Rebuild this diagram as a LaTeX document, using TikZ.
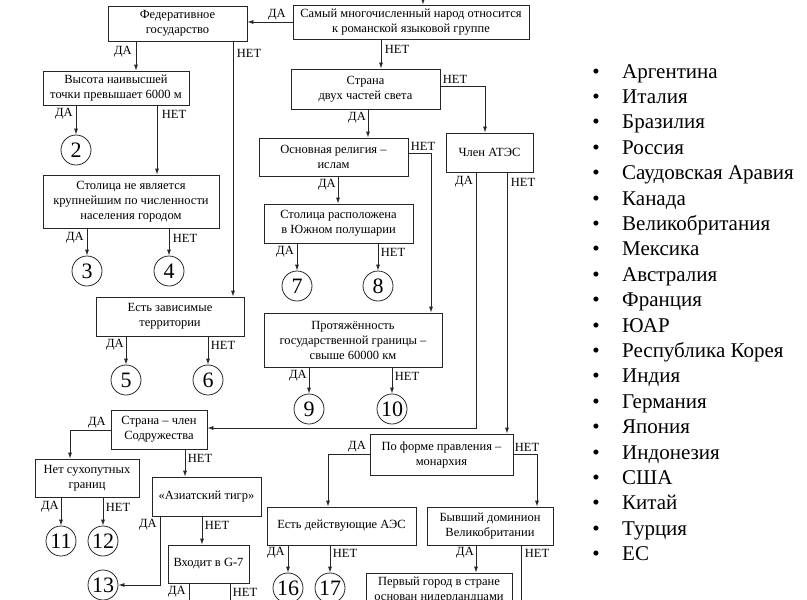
\documentclass[tikz,border=0pt]{standalone}
\usepackage{fontspec}
\setmainfont{Liberation Serif}
\usetikzlibrary{arrows.meta}
\begin{document}
\begin{tikzpicture}[x=1pt,y=-1pt,
  bx/.style={draw=black!85, line width=0.8pt, align=center, inner sep=0pt, font=\fontsize{12.5}{15}\selectfont},
  cir/.style={draw=black!85, circle, line width=0.8pt, minimum size=30pt, inner sep=0pt, font=\fontsize{22}{22}\selectfont},
  arr/.style={draw=black!85, line width=0.8pt, -{Latex[length=6pt,width=4pt]}},
  ln/.style={draw=black!85, line width=0.8pt},
  lb/.style={inner sep=0pt, font=\fontsize{12.5}{15}\selectfont},
  itm/.style={anchor=base west, inner sep=0pt, font=\fontsize{21}{24}\selectfont},
  bul/.style={anchor=base, inner sep=0pt, font=\fontsize{21}{24}\selectfont}]
\useasboundingbox (0,0) rectangle (807,600);
\clip (0,0) rectangle (807,600);

% boxes
\node[bx, minimum width=139pt, minimum height=35pt] (fed) at (177.5,23.5) {Федеративное\\государство};
\node[bx, minimum width=236pt, minimum height=34pt] (samy) at (411,22) {Самый многочисленный народ относится\\к романской языковой группе};
\node[bx, minimum width=146pt, minimum height=34pt] (vys) at (116,88) {Высота наивысшей\\точки превышает 6000 м};
\node[bx, minimum width=176pt, minimum height=53pt] (stol) at (131,201.5) {Столица не является\\крупнейшим по численности\\населения городом};
\node[bx, minimum width=148pt, minimum height=39pt] (zav) at (170,316.5) {Есть зависимые\\территории};
\node[bx, minimum width=149pt, minimum height=40pt] (dvuh) at (365.5,89) {Страна\\двух частей света};
\node[bx, minimum width=87pt, minimum height=39pt] (atec) at (489.5,152.5) {Член АТЭС};
\node[bx, minimum width=149pt, minimum height=38pt] (rel) at (333.5,157) {Основная религия –\\ислам};
\node[bx, minimum width=149pt, minimum height=39pt] (yug) at (338.5,223.5) {Столица расположена\\в Южном полушарии};
\node[bx, minimum width=178pt, minimum height=54pt] (prot) at (353,340) {Протяжённость\\государственной границы –\\свыше 60000 км};
\node[bx, minimum width=96pt, minimum height=39pt] (sodr) at (159,429.5) {Страна – член\\Содружества};
\node[bx, minimum width=104pt, minimum height=38pt] (suh) at (87,478) {Нет сухопутных\\границ};
\node[bx, minimum width=109pt, minimum height=39pt] (tigr) at (206.5,496.5) {«Азиатский тигр»};
\node[bx, minimum width=81pt, minimum height=38pt] (g7) at (208.5,564) {Входит в G-7};
\node[bx, minimum width=143pt, minimum height=41pt] (mon) at (441.5,454.5) {По форме правления –\\монархия};
\node[bx, minimum width=149pt, minimum height=38pt] (aes) at (341.5,526) {Есть действующие АЭС};
\node[bx, minimum width=126pt, minimum height=38pt] (dom) at (490,526) {Бывший доминион\\Великобритании};
\node[bx, minimum width=146pt, minimum height=34pt] (perv) at (439,590) {Первый город в стране\\основан нидерландцами};

% circles
\node[cir] (c2) at (76,150) {2};
\node[cir] (c3) at (87,271) {3};
\node[cir] (c4) at (169,271) {4};
\node[cir] (c5) at (126,380) {5};
\node[cir] (c6) at (208,380) {6};
\node[cir] (c7) at (297,286) {7};
\node[cir] (c8) at (378,286) {8};
\node[cir] (c9) at (309,409) {9};
\node[cir] (c10) at (392,409) {10};
\node[cir] (c11) at (61,541) {11};
\node[cir] (c12) at (103,541) {12};
\node[cir] (c13) at (103,585) {13};
\node[cir] (c16) at (288,588) {16};
\node[cir] (c17) at (330,588) {17};

% free ends
\coordinate (top) at (423,-5);
\coordinate (g7da) at (189,610);
\coordinate (g7net) at (230,610);
\coordinate (domnet) at (521,610);

% connectors
\draw[arr] (top) -- (top |- samy.north);
\draw[arr] (samy.west) -- (samy.west -| fed.east);
\draw[arr] (fed.south -| 136,0) -- (vys.north -| 136,0);
\draw[arr] (fed.south -| 233,0) -- (zav.north -| 233,0);
\draw[arr] (vys.south -| c2) -- (c2.north);
\draw[arr] (vys.south -| 157,0) -- (stol.north -| 157,0);
\draw[arr] (stol.south -| c3) -- (c3.north);
\draw[arr] (stol.south -| c4) -- (c4.north);
\draw[arr] (zav.south -| c5) -- (c5.north);
\draw[arr] (zav.south -| c6) -- (c6.north);
\draw[arr] (samy.south -| 381,0) -- (dvuh.north -| 381,0);
\draw[arr] (dvuh.east |- 0,86) -| (atec.north -| 485,0);
\draw[arr] (dvuh.south -| 368,0) -- (rel.north -| 368,0);
\draw[arr] (rel.east |- 0,153) -| (prot.north -| 431,0);
\draw[arr] (rel.south -| 338,0) -- (yug.north -| 338,0);
\draw[arr] (yug.south -| c7) -- (c7.north);
\draw[arr] (yug.south -| c8) -- (c8.north);
\draw[arr] (prot.south -| c9) -- (c9.north);
\draw[arr] (prot.south -| c10) -- (c10.north);
\draw[arr] (atec.south -| 476,0) |- (sodr.east |- 0,428);
\draw[arr] (atec.south -| 507,0) -- (mon.north -| 507,0);
\draw[arr] (sodr.west |- 0,430) -| (suh.north -| 70,0);
\draw[arr] (sodr.south -| 185,0) -- (tigr.north -| 185,0);
\draw[arr] (suh.south -| c11) -- (c11.north);
\draw[arr] (suh.south -| c12) -- (c12.north);
\draw[arr] (tigr.south -| 160,0) |- (c13.east);
\draw[arr] (tigr.south -| 202,0) -- (g7.north -| 202,0);
\draw[ln] (g7.south -| g7da) -- (g7da);
\draw[ln] (g7.south -| g7net) -- (g7net);
\draw[arr] (mon.west |- 0,454) -| (aes.north -| 328,0);
\draw[arr] (mon.east |- 0,454) -| (dom.north -| 537,0);
\draw[arr] (aes.south -| c16) -- (c16.north);
\draw[arr] (aes.south -| c17) -- (c17.north);
\draw[arr] (dom.south -| 476,0) -- (perv.north -| 476,0);
\draw[ln] (dom.south -| domnet) -- (domnet);

% labels
\node[lb] (l1) at (277,15) {ДА};
\node[lb] (l2) at (123,52) {ДА};
\node[lb] (l3) at (249,53) {НЕТ};
\node[lb] (l4) at (64,114) {ДА};
\node[lb] (l5) at (174,114) {НЕТ};
\node[lb] (l6) at (75,238) {ДА};
\node[lb] (l7) at (185,238) {НЕТ};
\node[lb] (l8) at (115,345) {ДА};
\node[lb] (l9) at (223,345) {НЕТ};
\node[lb] (l10) at (397,49) {НЕТ};
\node[lb] (l11) at (455,79) {НЕТ};
\node[lb] (l12) at (357,118) {ДА};
\node[lb] (l13) at (423,146) {НЕТ};
\node[lb] (l14) at (327,185) {ДА};
\node[lb] (l15) at (285,252) {ДА};
\node[lb] (l16) at (393,252) {НЕТ};
\node[lb] (l17) at (298,376) {ДА};
\node[lb] (l18) at (407,376) {НЕТ};
\node[lb] (l19) at (464,182) {ДА};
\node[lb] (l20) at (523,182) {НЕТ};
\node[lb] (l21) at (97,423) {ДА};
\node[lb] (l22) at (200,458) {НЕТ};
\node[lb] (l23) at (50,507) {ДА};
\node[lb] (l24) at (118,507) {НЕТ};
\node[lb] (l25) at (148,525) {ДА};
\node[lb] (l26) at (217,525) {НЕТ};
\node[lb] (l27) at (177,592) {ДА};
\node[lb] (l28) at (245,592) {НЕТ};
\node[lb] (l29) at (357,447) {ДА};
\node[lb] (l30) at (527,447) {НЕТ};
\node[lb] (l31) at (276,553) {ДА};
\node[lb] (l32) at (345,553) {НЕТ};
\node[lb] (l33) at (465,553) {ДА};
\node[lb] (l34) at (537,553) {НЕТ};

% list
\foreach \t [count=\i from 0] in {Аргентина, Италия, Бразилия, Россия, Саудовская Аравия, Канада, Великобритания, Мексика, Австралия, Франция, ЮАР, Республика Корея, Индия, Германия, Япония, Индонезия, США, Китай, Турция, ЕС}{
  \node[bul] (b\i) at (596, 78+25.4*\i) {•};
  \node[itm] (it\i) at (622, 78+25.4*\i) {\t};
}
\end{tikzpicture}
\end{document}
